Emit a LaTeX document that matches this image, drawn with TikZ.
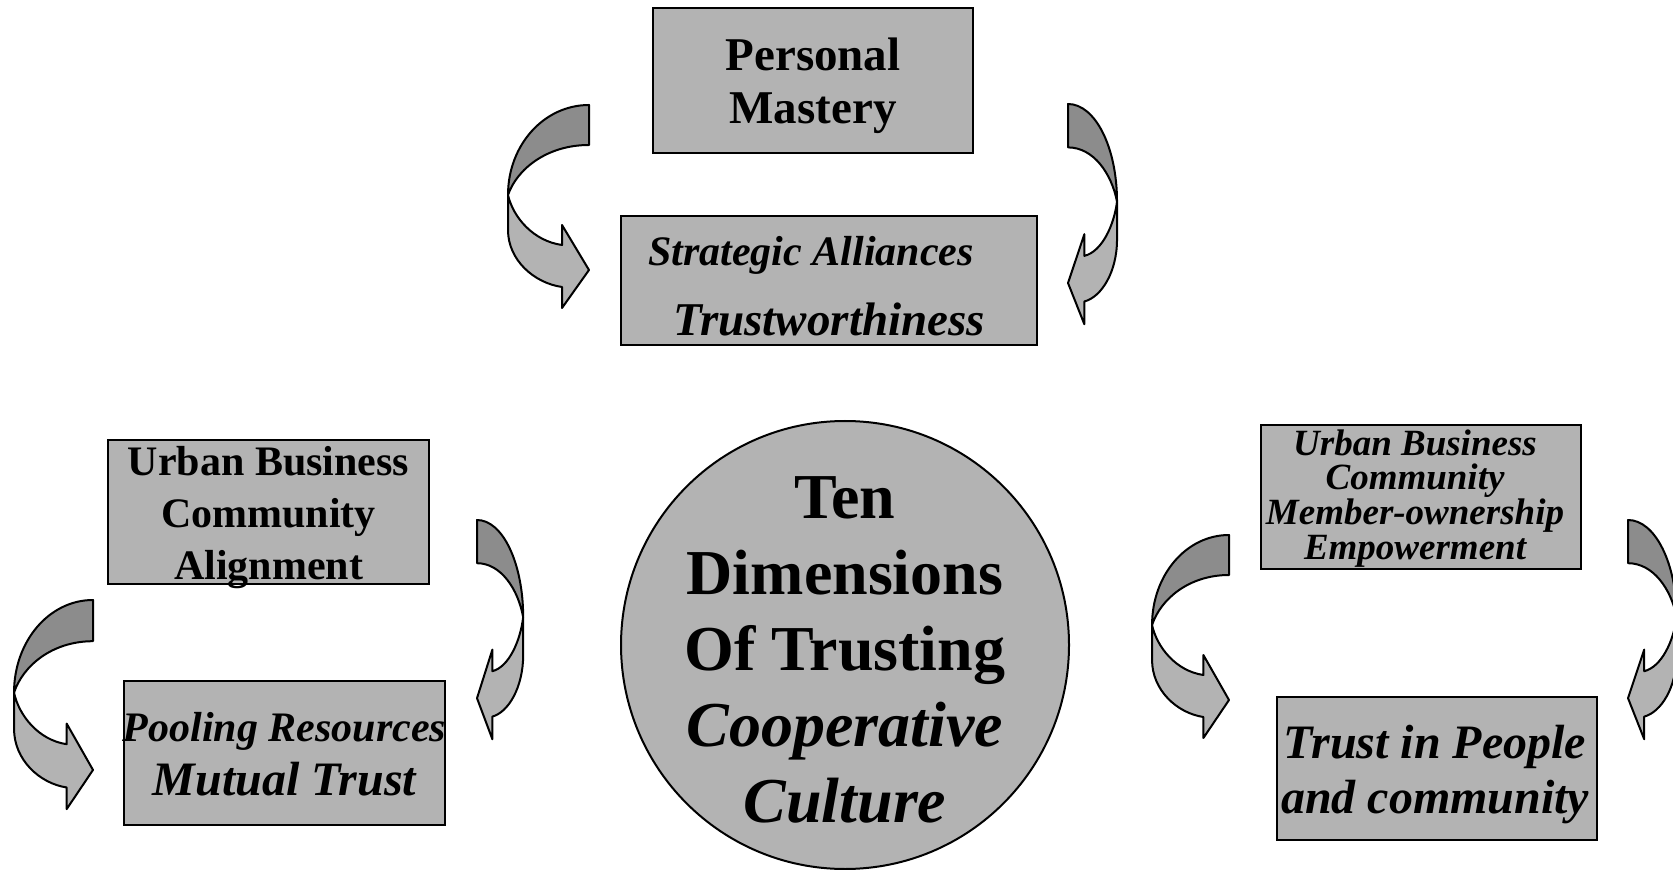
\documentclass[tikz,border=0pt]{standalone}
\usepackage{fontspec}
\setmainfont{Liberation Serif}
\usetikzlibrary{calc}

\definecolor{boxgray}{RGB}{179,179,179}
\definecolor{bandgray}{RGB}{140,140,140}

% twisted bent arrow, top end at (#1,#2)
\newcommand{\twistarrow}[4]{%
  \begin{scope}[shift={(#1,#2)}, xscale=#3, yscale=#4]
    \filldraw[bandlight] (-81,90) -- (-81,125) .. controls (-81,155) and (-55,178) .. (-27,182)
      -- (-27,203) -- (0,165) -- (-27,120) -- (-27,140)
      .. controls (-56,136) and (-76,112) .. (-81,90) -- cycle;
    \filldraw[banddark] (0,0) .. controls (-45,0) and (-81,40) .. (-81,90)
      .. controls (-72,64) and (-42,40) .. (0,40) -- cycle;
  \end{scope}}

\begin{document}
\begin{tikzpicture}[x=0.5pt, y=-0.5pt,
    box/.style={draw, line width=1pt, fill=boxgray, inner sep=0pt},
    txt/.style={align=center, inner sep=0pt},
    hub/.style={circle, draw, line width=1pt, fill=boxgray, inner sep=0pt, minimum size=224pt},
    banddark/.style={draw, line width=1pt, fill=bandgray, line join=round},
    bandlight/.style={draw, line width=1pt, fill=boxgray, line join=round}]
  \useasboundingbox (0,0) rectangle (1673,870);

  % boxes
  \draw (813,80.5) node[box, minimum width=160pt, minimum height=72.5pt] (mastery) {};
  \draw (829,280.5) node[box, minimum width=208pt, minimum height=64.5pt] (alliances) {};
  \draw (268.5,512) node[box, minimum width=160.5pt, minimum height=72pt] (alignment) {};
  \draw (284.5,753) node[box, minimum width=160.5pt, minimum height=72pt] (pooling) {};
  \draw (1421,497) node[box, minimum width=160pt, minimum height=72pt] (ownership) {};
  \draw (1437,768.5) node[box, minimum width=160pt, minimum height=71.5pt] (people) {};
  \draw (845,645) node[hub] (culture) {};

  % texts
  \draw (813,85.5) node[txt, font=\bfseries\fontsize{23.5}{26.5}\selectfont] (masterytext)
      {Personal\\Mastery};
  \draw (829,286.5) node[txt, font=\bfseries\itshape\fontsize{21}{35}\selectfont] (alliancestext)
      {Strategic Alliances\hspace*{18pt}\\{\fontsize{23.5}{35}\selectfont Trustworthiness}};
  \draw (268.5,518) node[txt, font=\bfseries\fontsize{21}{26}\selectfont] (alignmenttext)
      {Urban Business\\Community\\Alignment};
  \draw (284.5,754) node[txt, font=\bfseries\itshape\fontsize{21}{27}\selectfont] (poolingtext)
      {Pooling Resources\\{\fontsize{24}{27}\selectfont Mutual Trust}};
  \draw (1415,498.5) node[txt, font=\bfseries\itshape\fontsize{18.5}{17.4}\selectfont] (ownershiptext)
      {Urban Business\\Community\\Member-ownership\\Empowerment};
  \draw (1435,775) node[txt, font=\bfseries\itshape\fontsize{24}{27.5}\selectfont] (peopletext)
      {Trust in People\\and community};
  \draw (845,650) node[txt, font=\bfseries\fontsize{32}{38}\selectfont] (culturetext)
      {Ten\\Dimensions\\Of Trusting\\\textit{Cooperative}\\\textit{Culture}};

  % bent arrows
  \twistarrow{589}{105}{1}{1}
  \twistarrow{1068}{104}{-0.605}{1.085}
  \twistarrow{93}{600}{0.975}{1.03}
  \twistarrow{477}{520}{-0.57}{1.08}
  \twistarrow{1229}{535}{0.95}{1}
  \twistarrow{1628}{520}{-0.6}{1.08}
\end{tikzpicture}
\end{document}
